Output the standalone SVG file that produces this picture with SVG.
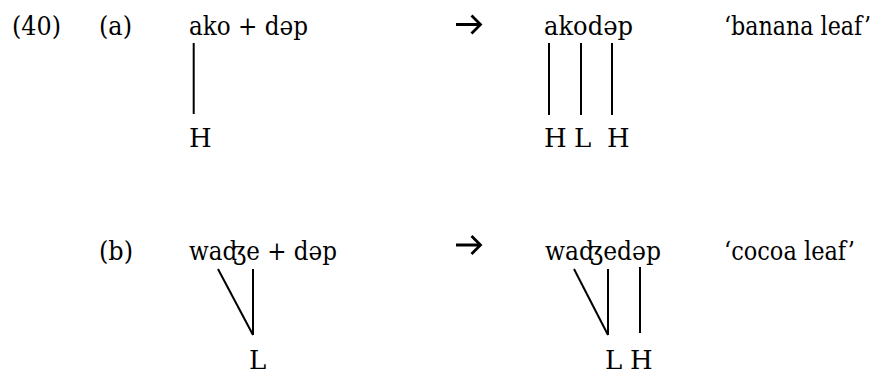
<svg xmlns="http://www.w3.org/2000/svg" width="879" height="375" viewBox="0 0 879 375">
<style>
text{font-family:"DejaVu Serif",serif;font-size:26px;fill:#000}
.ln{stroke:#000;stroke-width:2;fill:none}
.arr{stroke:#000;stroke-width:2.8;fill:none}
</style>
<rect width="879" height="375" fill="#fff"/>
<g id="labels">
<text x="12" y="35" textLength="49" lengthAdjust="spacingAndGlyphs">(40)</text>
<text x="99" y="35" textLength="33" lengthAdjust="spacingAndGlyphs">(a)</text>
<text x="99" y="260" textLength="34" lengthAdjust="spacingAndGlyphs">(b)</text>
</g>
<g id="a-input">
<text x="189" y="35" textLength="119" lengthAdjust="spacingAndGlyphs">ako + dəp</text>
<text x="189" y="147">H</text>
</g>
<g id="a-output">
<text x="544" y="35" textLength="89" lengthAdjust="spacingAndGlyphs">akodəp</text>
<text x="544" y="147">H</text>
<text x="574" y="147">L</text>
<text x="607" y="147">H</text>
</g>
<g id="a-gloss"><text x="724" y="35" textLength="147" lengthAdjust="spacingAndGlyphs">‘banana leaf’</text></g>
<g id="b-input">
<text x="189" y="260" textLength="148" lengthAdjust="spacingAndGlyphs">waʤe + dəp</text>
<text x="249" y="369">L</text>
</g>
<g id="b-output">
<text x="545" y="260" textLength="116" lengthAdjust="spacingAndGlyphs">waʤedəp</text>
<text x="605" y="369">L</text>
<text x="630" y="369">H</text>
</g>
<g id="b-gloss"><text x="724" y="260" textLength="131" lengthAdjust="spacingAndGlyphs">‘cocoa leaf’</text></g>
<g id="connectors">
<line class="ln" x1="193.7" y1="43" x2="193.7" y2="114"/>
<line class="ln" x1="549" y1="43" x2="549" y2="115"/>
<line class="ln" x1="581" y1="43" x2="581" y2="115"/>
<line class="ln" x1="612" y1="43" x2="612" y2="115"/>
<line class="ln" x1="218" y1="269" x2="253" y2="335"/>
<line class="ln" x1="253" y1="269" x2="253" y2="335"/>
<line class="ln" x1="574" y1="269" x2="608" y2="335"/>
<line class="ln" x1="608" y1="269" x2="608" y2="335"/>
<line class="ln" x1="640" y1="267" x2="640" y2="333"/>
<path class="arr" d="M456 24.5H480M471.5 15.5L480.5 24.5L471.5 33.5"/>
<path class="arr" d="M456 245H480M471.5 236L480.5 245L471.5 254"/>
</g>
</svg>
